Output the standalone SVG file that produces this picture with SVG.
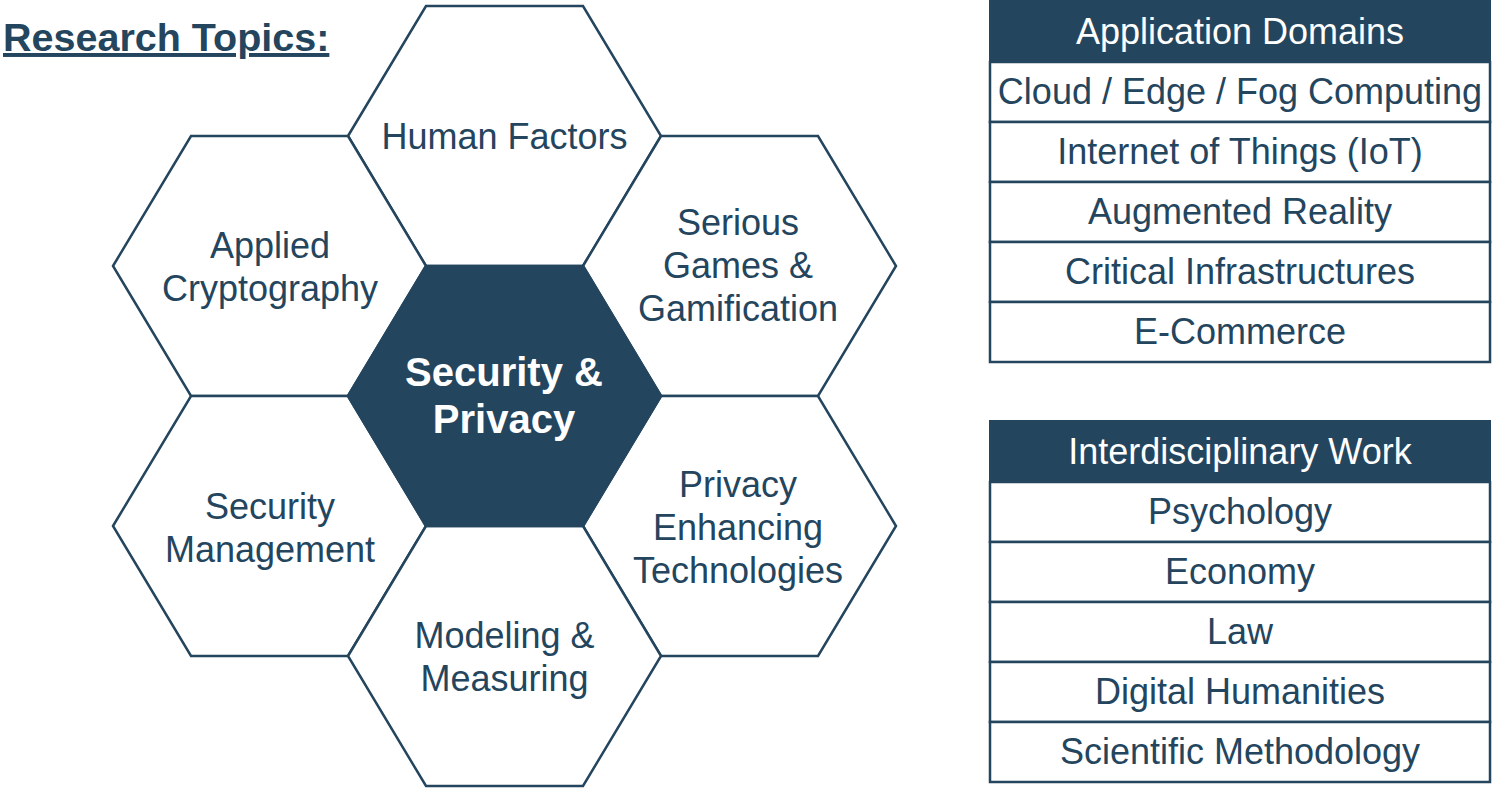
<svg xmlns="http://www.w3.org/2000/svg" xmlns:xlink="http://www.w3.org/1999/xlink" width="1492" height="789" viewBox="0 0 1492 789">
<style>
.hex{fill:#ffffff;stroke:#24455e;stroke-width:2.5;stroke-linejoin:miter}
.hexc{fill:#24455e;stroke:#24455e;stroke-width:2.5}
.t{font-family:"Liberation Sans",Arial,sans-serif;font-size:36px;fill:#24455e;text-anchor:middle}
.tb{font-family:"Liberation Sans",Arial,sans-serif;font-size:40px;font-weight:bold;fill:#ffffff;text-anchor:middle}
.hdr{fill:#24455e;stroke:#24455e;stroke-width:2}
.row{fill:#ffffff;stroke:#24455e;stroke-width:2.5}
.th{font-family:"Liberation Sans",Arial,sans-serif;font-size:36px;fill:#ffffff;text-anchor:middle}
.title{font-family:"Liberation Sans",Arial,sans-serif;font-size:39.5px;font-weight:bold;fill:#24455e;text-decoration:underline}
</style>
<defs>
<polygon id="hexshape" points="-156.5,0 -78.5,-130 78.5,-130 156.5,0 78.5,130 -78.5,130"/>
</defs>
<rect width="1492" height="789" fill="#ffffff"/>
<g id="title">
<text class="title" x="3" y="51">Research Topics:</text>
</g>
<g id="connectors"></g>
<g id="hex-human-factors">
<use xlink:href="#hexshape" href="#hexshape" class="hex" x="504.5" y="136"/>
<text class="t" x="504.5" y="149">Human Factors</text>
</g>
<g id="hex-applied-cryptography">
<use xlink:href="#hexshape" href="#hexshape" class="hex" x="269.5" y="266"/>
<text class="t" x="270" y="258">Applied</text>
<text class="t" x="270" y="301">Cryptography</text>
</g>
<g id="hex-serious-games">
<use xlink:href="#hexshape" href="#hexshape" class="hex" x="739.5" y="266"/>
<text class="t" x="738" y="235">Serious</text>
<text class="t" x="738" y="278">Games &amp;</text>
<text class="t" x="738" y="321">Gamification</text>
</g>
<g id="hex-security-management">
<use xlink:href="#hexshape" href="#hexshape" class="hex" x="269.5" y="526"/>
<text class="t" x="270" y="519">Security</text>
<text class="t" x="270" y="562">Management</text>
</g>
<g id="hex-pets">
<use xlink:href="#hexshape" href="#hexshape" class="hex" x="739.5" y="526"/>
<text class="t" x="738" y="497">Privacy</text>
<text class="t" x="738" y="540">Enhancing</text>
<text class="t" x="738" y="583">Technologies</text>
</g>
<g id="hex-modeling">
<use xlink:href="#hexshape" href="#hexshape" class="hex" x="504.5" y="656"/>
<text class="t" x="504.5" y="648">Modeling &amp;</text>
<text class="t" x="504.5" y="691">Measuring</text>
</g>
<g id="hex-center">
<use xlink:href="#hexshape" href="#hexshape" class="hexc" x="504.5" y="396"/>
<text class="tb" x="504" y="386">Security &amp;</text>
<text class="tb" x="504" y="433">Privacy</text>
</g>
<g id="application-domains">
<rect class="hdr" x="990" y="-2" width="500" height="64"/>
<text class="th" x="1240" y="44">Application Domains</text>
<rect class="row" x="990" y="62" width="500" height="60"/>
<text class="t" x="1240" y="104">Cloud / Edge / Fog Computing</text>
<rect class="row" x="990" y="122" width="500" height="60"/>
<text class="t" x="1240" y="164">Internet of Things (IoT)</text>
<rect class="row" x="990" y="182" width="500" height="60"/>
<text class="t" x="1240" y="224">Augmented Reality</text>
<rect class="row" x="990" y="242" width="500" height="60"/>
<text class="t" x="1240" y="284">Critical Infrastructures</text>
<rect class="row" x="990" y="302" width="500" height="60"/>
<text class="t" x="1240" y="344">E-Commerce</text>
</g>
<g id="interdisciplinary-work">
<rect class="hdr" x="990" y="421" width="500" height="61"/>
<text class="th" x="1240" y="464">Interdisciplinary Work</text>
<rect class="row" x="990" y="482" width="500" height="60"/>
<text class="t" x="1240" y="524">Psychology</text>
<rect class="row" x="990" y="542" width="500" height="60"/>
<text class="t" x="1240" y="584">Economy</text>
<rect class="row" x="990" y="602" width="500" height="60"/>
<text class="t" x="1240" y="644">Law</text>
<rect class="row" x="990" y="662" width="500" height="60"/>
<text class="t" x="1240" y="704">Digital Humanities</text>
<rect class="row" x="990" y="722" width="500" height="60"/>
<text class="t" x="1240" y="764">Scientific Methodology</text>
</g>
</svg>
